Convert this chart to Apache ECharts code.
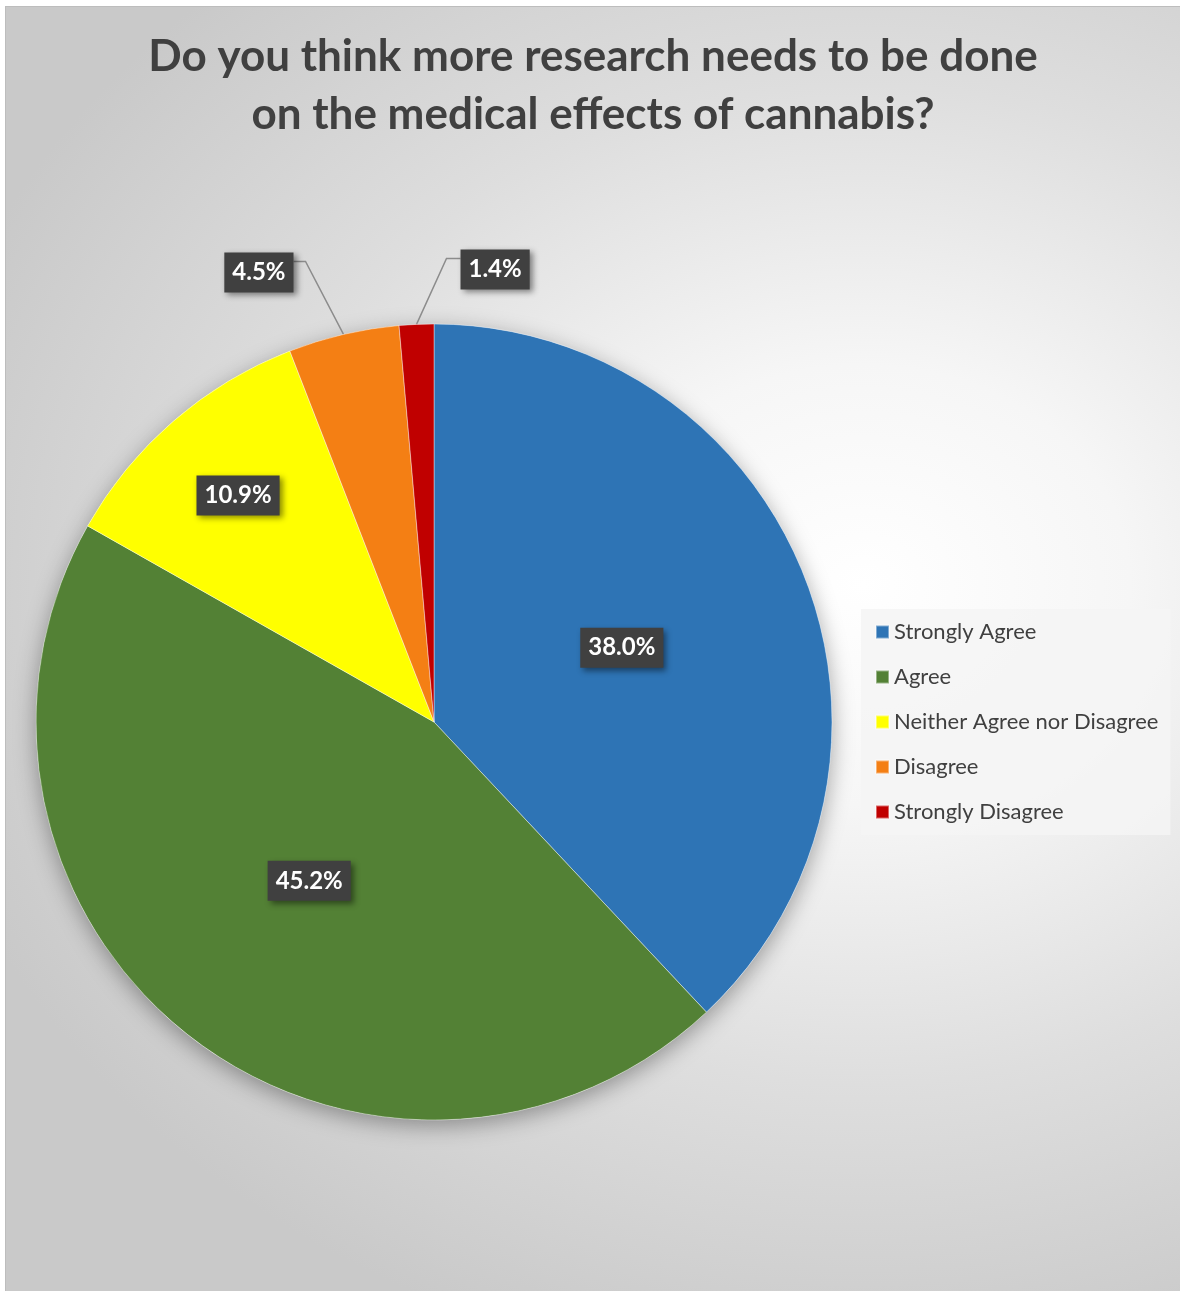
<!DOCTYPE html>
<html>
<head>
<meta charset="utf-8">
<script src="https://cdn.jsdelivr.net/npm/echarts@6/dist/echarts.min.js"></script>
<style>
  html, body { margin: 0; padding: 0; background: #ffffff; }
  #chart {
    position: absolute;
    left: 5px;
    top: 6px;
    width: 1174px;
    height: 1284px;
    border: 1px solid #bdbdbd;
    background: radial-gradient(farthest-corner at 73% 45%, #ffffff 0%, #f6f6f6 22%, #dedede 50%, #c9c9c9 80%);
  }
</style>
</head>
<body>
<div id="chart"></div>
<script>
  var titleLines = ['Do you think more research needs to be done', 'on the medical effects of cannabis?'];
  var categories = ['Strongly Agree', 'Agree', 'Neither Agree nor Disagree', 'Disagree', 'Strongly Disagree'];
  var shares = [38.0, 45.2, 10.9, 4.5, 1.4];
  var colors = ['#2e74b5', '#538135', '#ffff00', '#f47f14', '#c00000'];

  var chart = echarts.init(document.getElementById('chart'));
  var R = 398;
  var total = shares.reduce(function (a, b) { return a + b; }, 0);

  // mid angle of each slice (deg, clockwise from 12 o'clock)
  var midAngles = [];
  var acc = 0;
  shares.forEach(function (v) {
    midAngles.push(90 - 360 * (acc + v / 2) / total);
    acc += v;
  });

  var labelBox = {
    color: '#ffffff',
    fontFamily: 'Lato',
    fontWeight: 'bold',
    fontSize: 24,
    backgroundColor: '#404040',
    padding: [9, 8, 7, 8],
    shadowColor: 'rgba(0,0,0,0.45)',
    shadowBlur: 6,
    shadowOffsetX: 3,
    shadowOffsetY: 3,
    formatter: function (p) { return p.value.toFixed(1) + '%'; }
  };

  var data = categories.map(function (name, i) {
    var item = { name: name, value: shares[i], itemStyle: { color: colors[i] } };
    if (i >= 3) {
      item.label = { position: 'outside' };
      item.labelLine = { show: true };
    }
    return item;
  });

  var option = {
    title: {
      text: titleLines.join('\n'),
      left: 'center',
      top: 16,
      textStyle: {
        color: '#404040',
        fontFamily: 'Lato',
        fontWeight: 'bold',
        fontSize: 44,
        lineHeight: 58
      }
    },
    legend: {
      orient: 'vertical',
      left: 855,
      top: 602,
      data: categories,
      icon: 'rect',
      itemWidth: 13,
      itemHeight: 13,
      itemGap: 23,
      padding: [12, 12, 12, 14],
      backgroundColor: 'rgba(244,244,244,0.85)',
      textStyle: {
        color: '#404040',
        fontFamily: 'Lato',
        fontSize: 22,
        lineHeight: 22
      }
    },
    series: [
      {
        // soft shadow under the whole pie
        type: 'pie',
        silent: true,
        center: [428, 715],
        radius: R,
        z: 1,
        label: { show: false },
        labelLine: { show: false },
        itemStyle: {
          color: '#ffffff',
          shadowColor: 'rgba(0,0,0,0.35)',
          shadowBlur: 22,
          shadowOffsetY: 6
        },
        data: [total]
      },
      {
        type: 'pie',
        center: [428, 715],
        radius: R,
        startAngle: 90,
        clockwise: true,
        z: 2,
        itemStyle: {
          borderColor: 'rgba(255,255,255,0.4)',
          borderWidth: 1
        },
        label: Object.assign({ show: true, position: 'inside' }, labelBox),
        labelLine: {
          length: 75,
          length2: 12,
          lineStyle: { color: '#8c8c8c', width: 1.5 }
        },
        emphasis: { disabled: true },
        labelLayout: function (p) {
          var i = p.dataIndex;
          if (i === 2) {
            var a = midAngles[i] * Math.PI / 180;
            return { dx: Math.cos(a) * 0.245 * R, dy: -Math.sin(a) * 0.245 * R };
          }
          if (i >= 3 && p.labelLinePoints) {
            var p0 = p.labelLinePoints[0];
            var right = i === 4;
            var p1 = right ? [p0[0] + 30, p0[1] - 66] : [p0[0] - 38, p0[1] - 73];
            var p2 = [p1[0] + (right ? 14 : -12), p1[1]];
            return {
              x: p2[0],
              y: p2[1] + 11,
              align: right ? 'left' : 'right',
              verticalAlign: 'middle',
              labelLinePoints: [p0, p1, p2]
            };
          }
          return {};
        },
        data: data
      }
    ]
  };

  chart.setOption(option);
</script>
</body>
</html>
